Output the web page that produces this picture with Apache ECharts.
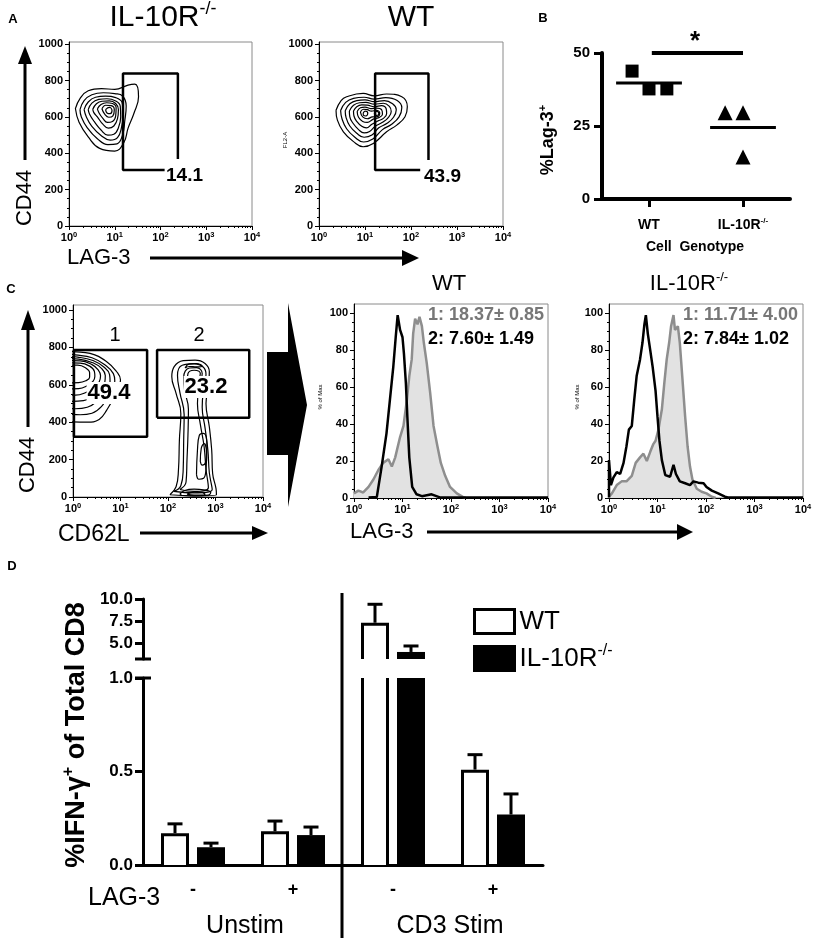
<!DOCTYPE html>
<html><head><meta charset="utf-8">
<script src="https://cdn.jsdelivr.net/npm/echarts@6/dist/echarts.min.js"></script>
<style>html,body{margin:0;padding:0;background:#fff}#c{width:816px;height:941px}</style>
</head><body><div id="c"></div><script>
const FONT = "'Liberation Sans', Arial, Helvetica, sans-serif";

// ---------- Panel A : contour loops (x = log10 LAG-3, y = CD44) ----------
const a1Loops = [
  [[0.14,646],[0.24,701],[0.42,744],[0.71,756],[1.0,751],[1.29,775],[1.44,780],[1.52,711],[1.42,620],[1.29,537],[1.2,460],[1.0,412],[0.67,427],[0.42,490],[0.22,570],[0.14,646]],
  [[0.24,640],[0.33,690],[0.5,722],[0.75,733],[1.0,728],[1.17,715],[1.25,660],[1.22,580],[1.17,500],[1.05,452],[0.85,448],[0.62,480],[0.4,540],[0.27,600],[0.24,640]],
  [[0.33,640],[0.42,682],[0.58,708],[0.8,714],[1.02,706],[1.16,680],[1.19,620],[1.15,545],[1.06,486],[0.9,472],[0.7,498],[0.5,548],[0.38,600],[0.33,640]],
  [[0.42,640],[0.5,676],[0.65,696],[0.83,700],[1.02,688],[1.12,660],[1.13,600],[1.08,540],[0.98,505],[0.85,500],[0.7,528],[0.55,575],[0.45,615],[0.42,640]],
  [[0.52,642],[0.6,672],[0.72,686],[0.88,688],[1.02,674],[1.08,640],[1.06,590],[0.98,550],[0.86,538],[0.74,560],[0.62,600],[0.54,625],[0.52,642]],
  [[0.62,644],[0.7,668],[0.82,678],[0.95,674],[1.03,650],[1.02,605],[0.95,575],[0.84,570],[0.74,592],[0.66,620],[0.62,644]],
  [[0.72,645],[0.8,664],[0.92,662],[0.99,640],[0.96,606],[0.87,598],[0.78,615],[0.72,645]],
  [[0.8,640],[0.88,652],[0.94,636],[0.9,618],[0.83,622],[0.8,640]]
];
const a2Loops = [
  [[0.37,637],[0.48,690],[0.6,711],[0.96,729],[1.2,716],[1.47,726],[1.8,711],[1.92,656],[1.87,601],[1.69,555],[1.47,518],[1.18,454],[0.96,436],[0.75,464],[0.53,518],[0.4,582],[0.37,637]],
  [[0.47,635],[0.58,680],[0.75,702],[0.98,708],[1.2,698],[1.45,706],[1.7,690],[1.8,650],[1.74,600],[1.58,560],[1.38,530],[1.17,478],[0.97,462],[0.78,488],[0.6,535],[0.5,590],[0.47,635]],
  [[0.57,634],[0.67,672],[0.82,690],[1.0,694],[1.2,684],[1.42,690],[1.6,672],[1.68,640],[1.62,598],[1.48,565],[1.3,540],[1.15,500],[0.98,488],[0.82,510],[0.67,550],[0.59,595],[0.57,634]],
  [[0.66,633],[0.75,664],[0.88,678],[1.02,680],[1.2,670],[1.4,675],[1.53,658],[1.57,630],[1.5,595],[1.38,570],[1.22,548],[1.1,520],[0.98,512],[0.86,530],[0.74,565],[0.67,600],[0.66,633]],
  [[0.75,632],[0.82,656],[0.93,666],[1.05,665],[1.2,656],[1.36,662],[1.46,645],[1.47,618],[1.4,592],[1.28,578],[1.15,560],[1.03,540],[0.93,548],[0.82,575],[0.76,605],[0.75,632]],
  [[0.83,630],[0.9,650],[1.0,654],[1.12,646],[1.25,648],[1.36,640],[1.38,615],[1.3,596],[1.18,588],[1.05,570],[0.95,575],[0.86,598],[0.83,630]],
  [[0.9,628],[0.97,642],[1.05,640],[1.14,632],[1.25,636],[1.32,622],[1.27,602],[1.16,600],[1.05,590],[0.95,600],[0.9,628]],
  [[0.96,620],[1.0,632],[1.06,622],[1.02,605],[0.97,608],[0.96,620]],
  [[1.2,622],[1.26,630],[1.3,618],[1.24,608],[1.2,622]]
];
const a1Gate = [[2.09,308],[1.18,308],[1.18,839],[2.38,839],[2.38,368]];
const a2Gate = [[2.2,308],[1.22,308],[1.22,839],[2.38,839],[2.38,363]];
const a1GateValue = '14.1';
const a2GateValue = '43.9';

// ---------- Panel B ----------
const bCategories = ['WT', 'IL-10R-/-'];
const bWT = [[0.82,43.8],[1.0,37.7],[1.19,37.7]];
const bIL = [[1.81,29.5],[2.0,29.5],[2.0,14.4]];
const bSig = [[1.03,50],[2.0,50]];
const bTicks = [0,25,50];

// ---------- Panel C : contour plot (x = log10 CD62L, y = CD44) ----------
const cPop1Loops = [
  [[-0.3,790],[0.0,778],[0.36,768],[0.71,724],[0.92,670],[1.0,626],[0.92,560],[0.71,465],[0.55,415],[0.3,400],[0.0,402],[-0.3,420]],
  [[-0.3,770],[0.05,760],[0.4,745],[0.68,705],[0.85,660],[0.88,620],[0.8,560],[0.62,490],[0.4,448],[0.15,440],[-0.3,450]],
  [[-0.3,755],[0.1,748],[0.42,730],[0.65,695],[0.77,655],[0.78,618],[0.7,570],[0.52,515],[0.3,480],[0.05,472],[-0.3,480]],
  [[-0.3,742],[0.12,738],[0.42,718],[0.6,688],[0.68,650],[0.67,615],[0.58,575],[0.42,540],[0.22,515],[-0.3,510]],
  [[-0.3,730],[0.15,728],[0.4,708],[0.53,680],[0.58,648],[0.55,615],[0.45,585],[0.28,560],[0.05,545],[-0.3,545]],
  [[-0.3,718],[0.15,716],[0.35,700],[0.45,672],[0.46,645],[0.42,618],[0.3,595],[0.12,580],[-0.3,578]],
  [[-0.3,705],[0.1,705],[0.27,690],[0.35,665],[0.35,640],[0.27,622],[0.12,612],[-0.3,610]]
];
const cPop2Loops = [
  [[2.04,12],[2.17,55],[2.22,144],[2.24,305],[2.27,447],[2.17,554],[2.08,643],[2.13,697],[2.32,729],[2.57,732],[2.78,714],[2.87,670],[2.85,590],[2.8,500],[2.87,376],[2.92,251],[2.94,126],[3.01,46],[3.02,12],[2.53,6],[2.04,12]],
  [[2.12,30],[2.27,60],[2.32,150],[2.33,300],[2.34,440],[2.25,560],[2.2,650],[2.3,705],[2.55,712],[2.74,695],[2.8,655],[2.75,580],[2.72,480],[2.78,370],[2.84,250],[2.87,130],[2.93,40],[2.55,22],[2.12,30]],
  [[2.25,40],[2.38,80],[2.4,200],[2.42,330],[2.43,470],[2.35,570],[2.33,640],[2.45,690],[2.6,692],[2.72,660],[2.66,590],[2.62,500],[2.68,390],[2.76,270],[2.8,150],[2.85,50],[2.55,30],[2.25,40]],
  [[2.4,600],[2.42,660],[2.55,678],[2.68,660],[2.62,600],[2.55,550],[2.48,540],[2.4,600]],
  [[2.36,690],[2.45,712],[2.6,714],[2.72,700],[2.6,696],[2.45,698],[2.36,690]],
  [[2.6,120],[2.62,250],[2.66,330],[2.75,340],[2.82,270],[2.8,150],[2.75,100],[2.65,95],[2.6,120]],
  [[2.68,190],[2.7,260],[2.76,285],[2.81,240],[2.79,185],[2.72,170],[2.68,190]],
  [[2.25,15],[2.35,35],[2.55,42],[2.75,38],[2.9,25],[2.85,10],[2.55,6],[2.3,8],[2.25,15]],
  [[2.4,15],[2.55,26],[2.72,24],[2.78,14],[2.55,10],[2.4,15]]
];
const cGate1 = [[0.02,322],[0.02,786],[1.56,786],[1.56,322],[0.02,322]];
const cGate2 = [[1.77,424],[1.77,786],[3.71,786],[3.71,424],[1.77,424]];
const cGate1Value = '49.4';
const cGate2Value = '23.2';

// ---------- Panel C : histograms (x = log10 LAG-3, y = % of max) ----------
const histWTGate1 = [[0,2.5],[0.09,4],[0.19,3],[0.3,6],[0.4,10],[0.5,15],[0.6,19],[0.71,21],[0.78,17],[0.85,22],[0.95,33],[1.02,39],[1.09,53],[1.14,66],[1.19,75],[1.22,89],[1.26,97],[1.31,94],[1.35,98],[1.4,93],[1.44,84],[1.5,73],[1.57,57],[1.64,39],[1.72,28],[1.79,19],[1.88,12],[1.98,6],[2.12,2.5],[2.25,0.5],[2.3,0]];
const histWTGate2 = [[0.3,0.3],[0.47,0.5],[0.57,17],[0.67,35],[0.74,53],[0.81,71],[0.86,87],[0.9,99],[0.95,91],[1.0,87],[1.03,78],[1.07,62],[1.1,44],[1.14,22],[1.2,6],[1.29,2],[1.4,1],[1.6,2],[1.77,0.3],[4,0.3]];
const histILGate1 = [[0,0.7],[0.06,2.5],[0.16,7],[0.26,9],[0.36,9],[0.47,12],[0.55,19],[0.64,22],[0.71,24],[0.78,20],[0.85,25],[0.91,29],[0.96,31],[1.02,37],[1.09,48],[1.14,62],[1.19,75],[1.24,84],[1.28,93],[1.33,99],[1.36,91],[1.42,93],[1.46,84],[1.51,66],[1.57,44],[1.62,28],[1.67,17],[1.72,10],[1.81,5],[1.91,3.4],[2.01,2.5],[2.12,0.7],[2.2,0]];
const histILGate2 = [[0,0.3],[0,20.5],[0.04,7],[0.09,11],[0.16,14],[0.23,13],[0.3,19],[0.36,28],[0.41,37],[0.47,39],[0.52,53],[0.57,66],[0.64,75],[0.69,84],[0.73,94],[0.76,99],[0.8,89],[0.85,80],[0.9,71],[0.96,58],[1.0,44],[1.04,31],[1.09,20.5],[1.16,12.4],[1.26,11.5],[1.33,18],[1.38,13],[1.46,9],[1.57,8],[1.67,7],[1.74,9],[1.84,8.3],[1.95,8],[2.01,6],[2.12,4],[2.25,2.5],[2.39,0.7],[2.45,0.3],[4,0.3]];
const histWTText = ['1: 18.37\u00b1 0.85', '2: 7.60\u00b1 1.49'];
const histILText = ['1: 11.71\u00b1 4.00', '2: 7.84\u00b1 1.02'];

// ---------- Panel D ----------
const dCategories = ['-', '+', '-', '+'];
const dWTMean = [0.17, 0.18, 7.3, 0.51];
const dWTErr  = [0.05, 0.055, 2.1, 0.08];
const dILMean = [0.095, 0.16, 3.98, 0.27];
const dILErr  = [0.022, 0.043, 0.68, 0.11];
const dLowerTicks = [0, 0.5, 1.0];
const dUpperTicks = [5.0, 7.5, 10.0];
const dBreakLow = 1.0, dBreakHigh = 3.18;

// ---------- helpers ----------
const decades = [0,1,2,3,4];
const logMinor = [];
for (let d = 0; d < 4; d++) for (let k = 2; k <= 9; k++) logMinor.push(d + Math.log10(k));
const expRich = {
  b:{fontFamily:FONT,fontWeight:'bold',fontSize:11,lineHeight:14,color:'#000'},
  e:{fontFamily:FONT,fontWeight:'bold',fontSize:7.5,lineHeight:8,verticalAlign:'top',color:'#000'}
};
const lbl = {fontFamily:FONT,fontWeight:'bold',fontSize:11,color:'#000'};
function xMain(g){ return {type:'value',gridIndex:g,min:0,max:4,position:'bottom',
  axisLine:{show:true,onZero:false,lineStyle:{color:'#000',width:1}},
  axisTick:{show:true,length:4,customValues:decades,lineStyle:{color:'#000'}},
  axisLabel:{show:true,customValues:decades,formatter:v=>'{b|10}{e|'+v+'}',rich:expRich,margin:5},
  splitLine:{show:false}}; }
function xMinor(g){ return {type:'value',gridIndex:g,min:0,max:4,position:'bottom',
  axisLine:{show:false,onZero:false},axisTick:{show:true,length:2,customValues:logMinor,lineStyle:{color:'#000'}},
  axisLabel:{show:false},splitLine:{show:false}}; }
function yMain(g,max,vals){ return {type:'value',gridIndex:g,min:0,max:max,position:'left',
  axisLine:{show:true,onZero:false,lineStyle:{color:'#000',width:1}},
  axisTick:{show:true,length:4,customValues:vals,lineStyle:{color:'#000'}},
  axisLabel:Object.assign({customValues:vals,margin:6,formatter:v=>String(v)},lbl),splitLine:{show:false}}; }
function yMinor(g,max,vals){ return {type:'value',gridIndex:g,min:0,max:max,position:'left',
  axisLine:{show:false,onZero:false},axisTick:{show:true,length:2,customValues:vals,lineStyle:{color:'#000'}},
  axisLabel:{show:false},splitLine:{show:false}}; }
function range(a,b,s){ const r=[]; for(let v=a; v<=b+1e-9; v+=s) r.push(v); return r; }

function loopSeries(loops, ax){ return loops.map(l => ({type:'line',xAxisIndex:ax,yAxisIndex:ax,data:l,smooth:0.45,
  symbol:'none',silent:true,lineStyle:{color:'#000',width:1.2},z:2})); }
function gateSeries(data, ax){ return {type:'line',xAxisIndex:ax,yAxisIndex:ax,data:data,symbol:'none',silent:true,
  lineStyle:{color:'#000',width:2.5},z:5}; }

function supRich(size, bold){
  const w = bold ? 'bold' : 'normal';
  return {a:{fontFamily:FONT,fontWeight:w,fontSize:size,lineHeight:Math.round(size*1.2),color:'#000'},
          s:{fontFamily:FONT,fontWeight:w,fontSize:Math.round(size*0.6),lineHeight:Math.round(size*0.6),verticalAlign:'top',color:'#000'}};
}
function T(x,y,text,size,o){
  o = o || {};
  const st = {text:text,fontFamily:FONT,fontSize:size,fontWeight:o.bold?'bold':'normal',fill:o.color||'#000',
    align:o.align||'center',verticalAlign:'middle',textAlign:o.align||'center',textVerticalAlign:'middle'};
  if (o.rich) st.rich = o.rich;
  if (o.bg) { st.backgroundColor = o.bg; st.padding = [0,1]; }
  return {type:'text',x:x,y:y,rotation:o.rot||0,style:st,z:100,silent:true};
}
function arrow(x1,y1,x2,y2,head){
  return [{type:'line',shape:{x1:x1,y1:y1,x2:x2,y2:y2},style:{stroke:'#000',lineWidth:3},silent:true},
          {type:'polygon',shape:{points:head},style:{fill:'#000'},silent:true}];
}

// ---------- D bar renderers ----------
function barRender(offset, white, lo, hi){
  return function(params, api){
    const c = api.value(0), v = api.value(1), e = api.value(2);
    if (v <= lo) return null;
    const top = Math.min(v, hi);
    const pb = api.coord([c, lo]), pt = api.coord([c, top]);
    const w = 28, x0 = pb[0] + offset - w/2, x1 = x0 + w;
    const yb = pb[1], yt = pt[1];
    const ch = [{type:'rect',shape:{x:x0,y:yt,width:w,height:yb-yt},style:{fill:white?'#fff':'#000'}}];
    if (white){
      const a = x0+1.5, b = x1-1.5;
      if (v > hi){
        ch.push({type:'line',shape:{x1:a,y1:yb,x2:a,y2:yt},style:{stroke:'#000',lineWidth:3}});
        ch.push({type:'line',shape:{x1:b,y1:yb,x2:b,y2:yt},style:{stroke:'#000',lineWidth:3}});
      } else {
        ch.push({type:'polyline',shape:{points:[[a,yb],[a,yt+1.5],[b,yt+1.5],[b,yb]]},style:{stroke:'#000',lineWidth:3,fill:null}});
      }
    }
    if (v <= hi){
      const et = api.coord([c, Math.min(v+e, hi)])[1];
      const cx = (x0+x1)/2;
      ch.push({type:'line',shape:{x1:cx,y1:yt,x2:cx,y2:et},style:{stroke:'#000',lineWidth:3}});
      ch.push({type:'line',shape:{x1:cx-7.5,y1:et,x2:cx+7.5,y2:et},style:{stroke:'#000',lineWidth:3}});
    }
    return {type:'group',children:ch};
  };
}
function breakRender(params, api){
  const y = api.coord([0, api.value(1)])[1];
  const x = params.coordSys.x;
  return {type:'line',shape:{x1:x-8,y1:y,x2:x+8,y2:y},style:{stroke:'#000',lineWidth:3}};
}
const wtData = dCategories.map((c,i)=>[i, dWTMean[i], dWTErr[i]]);
const ilData = dCategories.map((c,i)=>[i, dILMean[i], dILErr[i]]);
const mean = arr => arr.reduce((s,p)=>s+p[1],0)/arr.length;

// ---------- option ----------
const gridBox = {show:true,borderColor:'#8a8a8a',borderWidth:1,backgroundColor:'rgba(0,0,0,0)'};
const option = {
  animation:false,
  textStyle:{fontFamily:FONT},
  grid:[
    Object.assign({left:69,top:42,width:183,height:184},gridBox),
    Object.assign({left:319,top:42,width:184,height:184},gridBox),
    {left:602,top:53,width:188,height:146},
    Object.assign({left:73,top:305,width:190,height:192},gridBox),
    Object.assign({left:354,top:304,width:194,height:194},gridBox),
    Object.assign({left:609,top:304,width:194,height:194},gridBox),
    {left:143,top:599,width:400,height:60},
    {left:143,top:678,width:400,height:187}
  ],
  xAxis:[
    xMain(0), xMinor(0), xMain(1), xMinor(1),
    {type:'value',gridIndex:2,min:0.5,max:2.5,position:'bottom',
      axisLine:{onZero:false,lineStyle:{color:'#000',width:4}},
      axisTick:{show:true,length:8,customValues:[1,2],lineStyle:{color:'#000',width:3}},
      axisLabel:{customValues:[1,2],margin:18,formatter:v=>v===1?'{a|'+bCategories[0]+'}':'{a|IL-10R}{s|-/-}',rich:supRich(14,true)},
      splitLine:{show:false}},
    xMain(3), xMinor(3), xMain(4), xMinor(4), xMain(5), xMinor(5),
    {type:'category',gridIndex:6,data:dCategories,show:false},
    {type:'category',gridIndex:7,data:dCategories,
      axisLine:{lineStyle:{color:'#000',width:3}},axisTick:{show:false},
      axisLabel:{fontFamily:FONT,fontWeight:'bold',fontSize:18,color:'#000',margin:16}}
  ],
  yAxis:[
    yMain(0,1012,range(0,1000,200)), yMinor(0,1012,range(0,1000,50)),
    yMain(1,1012,range(0,1000,200)), yMinor(1,1012,range(0,1000,50)),
    {type:'value',gridIndex:2,min:0,max:50,interval:25,
      axisLine:{show:true,onZero:false,lineStyle:{color:'#000',width:4}},
      axisTick:{show:true,length:8,lineStyle:{color:'#000',width:3}},
      axisLabel:{fontFamily:FONT,fontWeight:'bold',fontSize:15,color:'#000',margin:12},splitLine:{show:false}},
    yMain(3,1027,range(0,1000,200)), yMinor(3,1027,range(0,1000,50)),
    yMain(4,105,range(0,100,20)), yMinor(4,105,range(0,100,5)),
    yMain(5,105,range(0,100,20)), yMinor(5,105,range(0,100,5)),
    {type:'value',gridIndex:6,min:dBreakHigh,max:10,
      axisLine:{show:true,onZero:false,lineStyle:{color:'#000',width:3}},
      axisTick:{show:true,length:8,customValues:dUpperTicks,lineStyle:{color:'#000',width:3}},
      axisLabel:{customValues:dUpperTicks,formatter:v=>v.toFixed(1),fontFamily:FONT,fontWeight:'bold',fontSize:17,color:'#000',margin:10},
      splitLine:{show:false}},
    {type:'value',gridIndex:7,min:0,max:1,
      axisLine:{show:true,onZero:false,lineStyle:{color:'#000',width:3}},
      axisTick:{show:true,length:8,customValues:dLowerTicks,lineStyle:{color:'#000',width:3}},
      axisLabel:{customValues:dLowerTicks,formatter:v=>v.toFixed(1),fontFamily:FONT,fontWeight:'bold',fontSize:17,color:'#000',margin:10},
      splitLine:{show:false}}
  ],
  legend:{
    left:468, top:603, orient:'vertical', itemWidth:40, itemHeight:24, itemGap:8, selectedMode:false,
    data:[
      {name:'WT',icon:'rect',itemStyle:{color:'#fff',borderColor:'#000',borderWidth:3}},
      {name:'IL-10R-/-',icon:'rect',itemStyle:{color:'#000',borderColor:'#000',borderWidth:3}}
    ],
    formatter:n => n==='WT' ? '{a|WT}' : '{a|IL-10R}{s|-/-}',
    textStyle:{fontSize:26,color:'#000',rich:supRich(26,false)}
  },
  series:[].concat(
    loopSeries(a1Loops,0), [gateSeries(a1Gate,0)],
    loopSeries(a2Loops,2), [gateSeries(a2Gate,2)],
    [
      {type:'line',xAxisIndex:4,yAxisIndex:4,data:bSig,symbol:'none',clip:false,lineStyle:{color:'#000',width:4},silent:true},
      {type:'scatter',xAxisIndex:4,yAxisIndex:4,data:bWT,symbol:'rect',symbolSize:13,itemStyle:{color:'#000',opacity:1},clip:false,silent:true},
      {type:'scatter',xAxisIndex:4,yAxisIndex:4,data:bIL,symbol:'triangle',symbolSize:15,itemStyle:{color:'#000',opacity:1},clip:false,silent:true},
      {type:'custom',xAxisIndex:4,yAxisIndex:4,data:[[1,mean(bWT)],[2,mean(bIL)]],encode:{x:0,y:1},silent:true,
        renderItem:(p,api)=>{const a=api.coord([api.value(0)-0.35,api.value(1)]),b=api.coord([api.value(0)+0.35,api.value(1)]);
          return {type:'line',shape:{x1:a[0],y1:a[1],x2:b[0],y2:b[1]},style:{stroke:'#000',lineWidth:3}};}}
    ],
    loopSeries(cPop1Loops,5), loopSeries(cPop2Loops,5), [gateSeries(cGate1,5), gateSeries(cGate2,5)],
    [
      {type:'line',xAxisIndex:7,yAxisIndex:7,data:histWTGate1,symbol:'none',silent:true,lineStyle:{color:'#8e8e8e',width:2.5},areaStyle:{color:'#e2e2e2',opacity:1},z:2},
      {type:'line',xAxisIndex:7,yAxisIndex:7,data:histWTGate2,symbol:'none',silent:true,lineStyle:{color:'#000',width:2.5},z:3},
      {type:'line',xAxisIndex:9,yAxisIndex:9,data:histILGate1,symbol:'none',silent:true,lineStyle:{color:'#8e8e8e',width:2.5},areaStyle:{color:'#e2e2e2',opacity:1},z:2},
      {type:'line',xAxisIndex:9,yAxisIndex:9,data:histILGate2,symbol:'none',silent:true,lineStyle:{color:'#000',width:2.5},z:3}
    ],
    [
      {name:'WT',type:'custom',xAxisIndex:12,yAxisIndex:12,data:wtData,encode:{x:0,y:1},silent:true,
        itemStyle:{color:'#fff',borderColor:'#000',borderWidth:3},renderItem:barRender(-18,true,0,dBreakLow)},
      {name:'IL-10R-/-',type:'custom',xAxisIndex:12,yAxisIndex:12,data:ilData,encode:{x:0,y:1},silent:true,
        itemStyle:{color:'#000'},renderItem:barRender(18,false,0,dBreakLow)},
      {name:'WT',type:'custom',xAxisIndex:11,yAxisIndex:11,data:wtData,encode:{x:0,y:1},silent:true,
        itemStyle:{color:'#fff',borderColor:'#000',borderWidth:3},renderItem:barRender(-18,true,dBreakHigh,10)},
      {name:'IL-10R-/-',type:'custom',xAxisIndex:11,yAxisIndex:11,data:ilData,encode:{x:0,y:1},silent:true,
        itemStyle:{color:'#000'},renderItem:barRender(18,false,dBreakHigh,10)},
      {type:'custom',xAxisIndex:12,yAxisIndex:12,data:[[0,dBreakLow]],encode:{x:0,y:1},silent:true,renderItem:breakRender,z:10},
      {type:'custom',xAxisIndex:11,yAxisIndex:11,data:[[0,dBreakHigh]],encode:{x:0,y:1},silent:true,renderItem:breakRender,z:10}
    ]
  ),
  graphic:[].concat(
    [
      T(13,19,'A',13,{bold:true}),
      T(163,18,'{a|IL-10R}{s|-/-}',30,{rich:supRich(30,false)}),
      T(411,18,'WT',30),
      T(25,198,'CD44',22,{rot:Math.PI/2}),
      T(67,258,'LAG-3',22,{align:'left'}),
      T(285,140,'FL2-A',6,{rot:Math.PI/2}),
      T(166,176,a1GateValue,19,{bold:true,align:'left'}),
      T(424,177,a2GateValue,19,{bold:true,align:'left'}),
      T(543,18,'B',13,{bold:true}),
      T(695,42,'*',26,{bold:true}),
      T(548,140,'{a|%Lag-3}{s|+}',18,{rot:Math.PI/2,rich:supRich(18,true)}),
      T(695,247,'Cell  Genotype',14,{bold:true}),
      T(11,289,'C',13,{bold:true}),
      T(28,465,'CD44',22,{rot:Math.PI/2}),
      T(58,535,'CD62L',23,{align:'left'}),
      T(115,335,'1',20), T(199,335,'2',20),
      T(109,393,cGate1Value,22,{bold:true,bg:'#fff'}),
      T(206,387,cGate2Value,22,{bold:true,bg:'#fff'}),
      T(449,284,'WT',22),
      T(689,284,'{a|IL-10R}{s|-/-}',22,{rich:supRich(22,false)}),
      T(320,397,'% of Max',6,{rot:Math.PI/2}),
      T(577,397,'% of Max',6,{rot:Math.PI/2}),
      T(428,315,histWTText[0],18,{bold:true,align:'left',color:'#777'}),
      T(428,339,histWTText[1],18,{bold:true,align:'left'}),
      T(683,315,histILText[0],18,{bold:true,align:'left',color:'#777'}),
      T(683,339,histILText[1],18,{bold:true,align:'left'}),
      T(350,532,'LAG-3',22,{align:'left'}),
      T(12,566,'D',13,{bold:true}),
      T(77,735,'{a|%IFN-\u03b3}{s|+}{a| of Total CD8}',27,{rot:Math.PI/2,rich:supRich(27,true)}),
      T(88,898,'LAG-3',25,{align:'left'}),
      T(245,926,'Unstim',25),
      T(450,926,'CD3 Stim',25),
      {type:'line',shape:{x1:342,y1:593,x2:342,y2:938},style:{stroke:'#000',lineWidth:3},silent:true},
      {type:'polygon',shape:{points:[[267,352],[288,352],[288,303],[307,405],[288,507],[288,455],[267,455]]},style:{fill:'#000'},silent:true}
    ],
    arrow(25,160,25,62,[[18,64],[32,64],[25,46]]),
    arrow(150,258,404,258,[[402,250],[402,266],[419,258]]),
    arrow(28,427,28,328,[[21,330],[35,330],[28,310]]),
    arrow(140,533,254,533,[[252,526],[252,540],[268,533]]),
    arrow(427,532,680,532,[[677,524],[677,540],[693,532]])
  )
};
const chart = echarts.init(document.getElementById('c'), null, {renderer:'canvas'});
chart.setOption(option);
</script></body></html>
